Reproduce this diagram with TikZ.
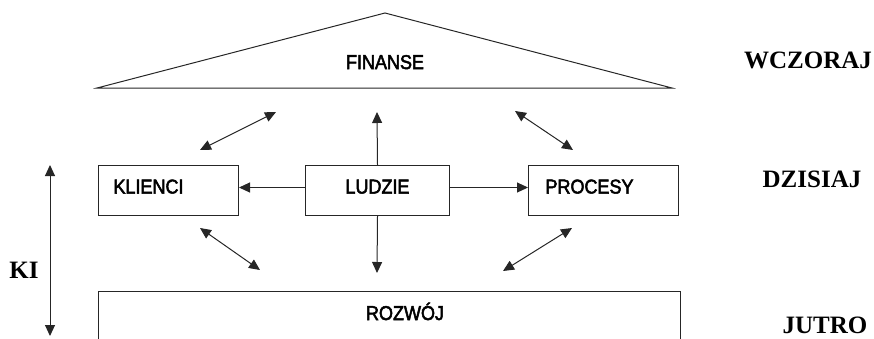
\documentclass[tikz,border=0pt]{standalone}
\usepackage{fontspec}
\setmainfont{Liberation Serif}
\newfontfamily\boxfont[FakeStretch=0.9, FakeBold=2.5]{Liberation Sans}
\usetikzlibrary{arrows.meta}

\begin{document}
\begin{tikzpicture}[x=1pt, y=-1pt,
    box/.style={draw=black!85, line width=1pt, font=\boxfont\fontsize{20}{24}\selectfont,
      text height=22pt, text depth=16pt, inner ysep=6pt, inner xsep=15pt, align=left, anchor=north west},
    txt/.style={font=\boxfont\fontsize{20}{24}\selectfont, anchor=base, inner sep=0pt},
    czas/.style={font=\fontsize{25}{30}\selectfont\bfseries, anchor=base, inner sep=0pt},
    arr/.style={draw=black!85, line width=1pt, -{Triangle[length=11pt, width=10pt]}},
    darr/.style={arr, {Triangle[length=11pt, width=10pt]}-{Triangle[length=11pt, width=10pt]}}]
    \clip (0,0) rectangle (874,338);

    % Dach
    \draw[draw=black!85, line width=1pt] (97,88) -- (385,13) -- (672,88) -- cycle;
    \node[txt] (finanse) at (385,69) {FINANSE};

    % Prostokaty
    \node[box, text width=110pt] (klienci) at (98,165) {KLIENCI};
    \node[box, text width=114pt, align=center] (ludzie) at (305,165) {LUDZIE};
    \node[box, text width=116pt, inner xsep=17pt] (procesy) at (528,165) {PROCESY};
    \node[box, minimum width=582pt, minimum height=90pt] (rozwoj) at (98,291) {};
    \node[txt] (rozwojtxt) at (405,320) {ROZWÓJ};

    % Konce strzalek
    \coordinate (a1) at (200,150);
    \coordinate (a2) at (276,112);
    \coordinate (b1) at (377,112);
    \coordinate (c1) at (515,111);
    \coordinate (c2) at (573,150);
    \coordinate (d1) at (377,273);
    \coordinate (e1) at (200,228);
    \coordinate (e2) at (260,270);
    \coordinate (f1) at (572,228);
    \coordinate (f2) at (503,271);
    \coordinate (k1) at (50,165);
    \coordinate (k2) at (50,336);

    % Strzalki
    \draw[darr] (a1) -- (a2);
    \draw[arr] (ludzie.north) -- (b1);
    \draw[darr] (c1) -- (c2);
    \draw[arr] ([yshift=3pt]ludzie.west) -- ([yshift=3pt]klienci.east);
    \draw[arr] ([yshift=3pt]ludzie.east) -- ([yshift=3pt]procesy.west);
    \draw[arr] (ludzie.south) -- (d1);
    \draw[darr] (e1) -- (e2);
    \draw[darr] (f1) -- (f2);
    \draw[darr] (k1) -- (k2);

    % Czas
    \node[czas] (ki) at (24,278) {KI};
    \node[czas] (wczoraj) at (808,68) {WCZORAJ};
    \node[czas] (dzisiaj) at (812,187) {DZISIAJ};
    \node[czas] (jutro) at (825,333) {JUTRO};
\end{tikzpicture}
\end{document}
